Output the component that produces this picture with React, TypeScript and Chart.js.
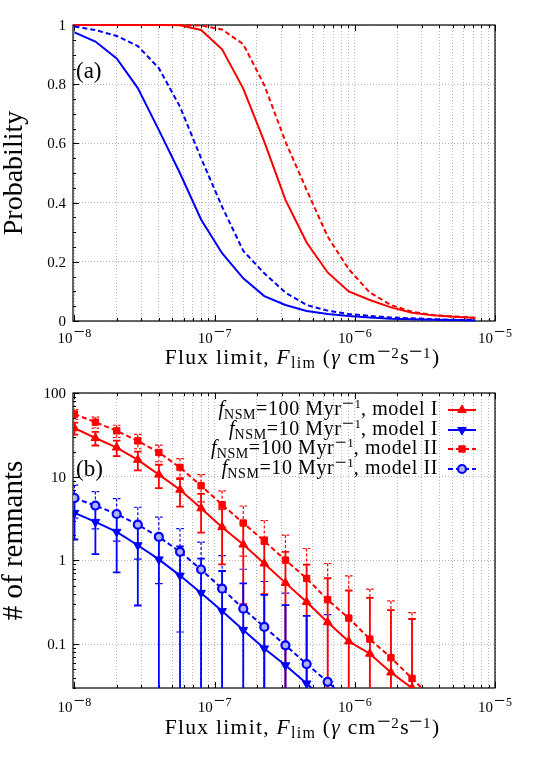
import React, { useEffect, useRef } from 'react';
import { Chart, registerables } from 'chart.js';

Chart.register(...registerables);

const FONT = '"Liberation Serif", "Times New Roman", Times, serif';
const RED = '#ff0000';
const BLUE = '#0000ff';
const GRID = '#b4b4b4';

// Flux limit grid (gamma cm^-2 s^-1)
const fluxLimits = [
  1.0e-8, 1.41e-8, 2.0e-8, 2.83e-8, 4.0e-8, 5.66e-8, 8.0e-8, 1.13e-7, 1.6e-7, 2.26e-7,
  3.2e-7, 4.53e-7, 6.4e-7, 9.05e-7, 1.28e-6, 1.81e-6, 2.56e-6, 3.62e-6, 5.12e-6, 7.24e-6,
];

// Panel (a): detection probability
const probRedModelI = [1, 1, 1, 1, 1, 0.999, 0.983, 0.918, 0.785, 0.606, 0.409, 0.265, 0.164, 0.1, 0.071, 0.046, 0.028, 0.019, 0.014, 0.01];
const probRedModelII = [1, 1, 1, 1, 1, 1, 0.998, 0.985, 0.935, 0.797, 0.606, 0.443, 0.285, 0.175, 0.096, 0.054, 0.031, 0.02, 0.015, 0.011];
const probBlueModelI = [0.975, 0.944, 0.887, 0.787, 0.645, 0.499, 0.343, 0.229, 0.144, 0.084, 0.054, 0.034, 0.024, 0.017, 0.012, 0.008, 0.006, 0.004, 0.003, 0.002];
const probBlueModelII = [0.995, 0.983, 0.963, 0.929, 0.854, 0.724, 0.55, 0.386, 0.237, 0.161, 0.096, 0.054, 0.035, 0.024, 0.017, 0.012, 0.009, 0.006, 0.004, 0.003];

// Panel (b): number of remnants with error bars (half widths)
const remRedModelI = [38, 29, 22.3, 15.9, 10.6, 7.0, 4.2, 2.5, 1.55, 0.92, 0.54, 0.32, 0.183, 0.108, 0.077, 0.046, 0.03];
const errRedModelI = [6.2, 5.4, 4.7, 4.0, 3.3, 2.6, 2.05, 1.6, 1.25, 0.96, 0.73, 0.57, 0.43, 0.33, 0.28, 0.21, 0.17];
const remBlueModelI = [3.7, 2.89, 2.2, 1.52, 1.03, 0.66, 0.41, 0.249, 0.148, 0.089, 0.056, 0.034, 0.02];
const errBlueModelI = [1.92, 1.7, 1.48, 1.23, 1.01, 0.81, 0.64, 0.5, 0.385, 0.3, 0.237, 0.184];
const remRedModelII = [56, 44.8, 35.3, 26.8, 19.5, 12.9, 7.8, 4.64, 2.8, 1.7, 1.01, 0.61, 0.34, 0.205, 0.115, 0.069, 0.039, 0.022];
const errRedModelII = [7.5, 6.7, 5.9, 5.2, 4.4, 3.6, 2.8, 2.15, 1.67, 1.3, 1.0, 0.78, 0.58, 0.45, 0.34, 0.26, 0.2];
const remBlueModelII = [5.57, 4.52, 3.59, 2.68, 1.91, 1.27, 0.78, 0.46, 0.266, 0.161, 0.097, 0.058, 0.0356, 0.021];
const errBlueModelII = [2.36, 2.13, 1.89, 1.64, 1.38, 1.13, 0.88, 0.68, 0.52, 0.4, 0.31, 0.24, 0.19];

// Ticks and labels
const xDecades = [1e-8, 1e-7, 1e-6, 1e-5];
const xDecadeExponents = ['8', '7', '6', '5'];
const probTicks = [0, 0.2, 0.4, 0.6, 0.8, 1];
const probTickLabels = ['0', '0.2', '0.4', '0.6', '0.8', '1'];
const remTicks = [0.1, 1, 10, 100];
const remTickLabels = ['0.1', '1', '10', '100'];
const legendRates = ['100', '10', '100', '10'];
const legendModels = ['I', 'I', 'II', 'II'];
const legendColors = [RED, BLUE, RED, BLUE];
const legendMarkers = ['tri', 'tridown', 'square', 'circle'];
const legendDashed = [false, false, true, true];

const X_MIN = 0.976e-8;
const X_MAX = 1e-5;
const REM_MIN = 0.03;
const REM_MAX = 100;

const xMinorTicks: number[] = [];
for (const d of [1e-8, 1e-7, 1e-6]) for (let m = 2; m <= 9; m++) xMinorTicks.push(d * m);
const probMinorTicks: number[] = [];
for (let i = 1; i < 20; i++) if (i % 4 !== 0) probMinorTicks.push(i * 0.05);
const remMinorTicks: number[] = [];
for (const d of [0.01, 0.1, 1, 10]) for (let m = 2; m <= 9; m++) { const v = d * m; if (v >= REM_MIN - 1e-9 && v < REM_MAX) remMinorTicks.push(v); }

type Seg = { t: string; size: number; italic?: boolean; dy?: number; dx?: number; ls?: number };
const segFont = (s: Seg) => `${s.italic ? 'italic ' : ''}${s.size}px ${FONT}`;

function segWidth(ctx: CanvasRenderingContext2D, s: Seg) {
  ctx.font = segFont(s);
  if (!s.ls) return ctx.measureText(s.t).width;
  let w = 0;
  for (const ch of s.t) w += ctx.measureText(ch).width + s.ls;
  return w;
}
function richWidth(ctx: CanvasRenderingContext2D, segs: Seg[]) {
  let w = 0;
  for (const s of segs) w += segWidth(ctx, s) + (s.dx || 0);
  return w;
}
function drawRich(ctx: CanvasRenderingContext2D, segs: Seg[], x: number, y: number, align: 'left' | 'center' | 'right') {
  const w = richWidth(ctx, segs);
  let cx = align === 'left' ? x : align === 'right' ? x - w : x - w / 2;
  ctx.textAlign = 'left';
  ctx.textBaseline = 'alphabetic';
  ctx.fillStyle = '#000';
  for (const s of segs) {
    ctx.font = segFont(s);
    cx += s.dx || 0;
    if (!s.ls) {
      ctx.fillText(s.t, cx, y + (s.dy || 0));
      cx += ctx.measureText(s.t).width;
    } else {
      for (const ch of s.t) {
        ctx.fillText(ch, cx, y + (s.dy || 0));
        cx += ctx.measureText(ch).width + s.ls;
      }
    }
  }
}
const powerLabel = (exp: string): Seg[] => [
  { t: '10', size: 15 },
  { t: '−', size: 20, dy: -5, dx: 1 },
  { t: exp, size: 12, dy: -6.5, dx: 0.5 },
];
const TL = 1.3;
const fluxTitle: Seg[] = [
  { t: 'Flux limit, ', size: 21.5, ls: TL },
  { t: 'F', size: 21.5, italic: true, ls: TL },
  { t: 'lim', size: 16, dy: 4, ls: TL },
  { t: ' (', size: 21.5, ls: TL },
  { t: 'γ', size: 21.5, italic: true, ls: TL },
  { t: ' cm', size: 21.5, ls: TL },
  { t: '−', size: 24, dy: -5, dx: 0.5 },
  { t: '2', size: 15, dy: -6.5, dx: 0.5 },
  { t: 's', size: 21.5, dx: 1.5 },
  { t: '−', size: 24, dy: -5, dx: 0.5 },
  { t: '1', size: 15, dy: -6.5, dx: 0.5 },
  { t: ')', size: 21.5, dx: 1.5 },
];

function drawMarker(ctx: CanvasRenderingContext2D, kind: string, x: number, y: number, color: string) {
  ctx.save();
  ctx.fillStyle = color;
  ctx.strokeStyle = color;
  ctx.lineWidth = 1;
  ctx.setLineDash([]);
  ctx.beginPath();
  if (kind === 'tri' || kind === 'tridown') {
    const r = 5;
    const s = kind === 'tri' ? 1 : -1;
    ctx.moveTo(x, y - s * r);
    ctx.lineTo(x + r * 0.866, y + s * r * 0.5);
    ctx.lineTo(x - r * 0.866, y + s * r * 0.5);
    ctx.closePath();
    ctx.fill();
    ctx.stroke();
  } else if (kind === 'square') {
    ctx.rect(x - 3.2, y - 3.2, 6.4, 6.4);
    ctx.fill();
    ctx.stroke();
  } else {
    ctx.arc(x, y, 4, 0, Math.PI * 2);
    ctx.fillStyle = '#b0b0ff';
    ctx.fill();
    ctx.lineWidth = 2.2;
    ctx.stroke();
  }
  ctx.restore();
}

function drawFrameTicks(chart: any, kind: 'top' | 'bottom') {
  const ctx: CanvasRenderingContext2D = chart.ctx;
  const a = chart.chartArea;
  const xs = chart.scales.x;
  const ys = chart.scales.y;
  ctx.save();
  ctx.strokeStyle = '#000';
  ctx.lineWidth = 1.2;
  ctx.setLineDash([]);
  ctx.strokeRect(a.left, a.top, a.right - a.left, a.bottom - a.top);
  ctx.lineWidth = 1;
  const vt = (v: number, len: number) => {
    const p = Math.round(xs.getPixelForValue(v)) + 0.5;
    ctx.beginPath();
    ctx.moveTo(p, a.bottom); ctx.lineTo(p, a.bottom - len);
    ctx.moveTo(p, a.top); ctx.lineTo(p, a.top + len);
    ctx.stroke();
  };
  xDecades.forEach((v) => vt(v, 6));
  xMinorTicks.forEach((v) => vt(v, 3));
  const ht = (v: number, len: number) => {
    const p = Math.round(ys.getPixelForValue(v)) + 0.5;
    ctx.beginPath();
    ctx.moveTo(a.left, p); ctx.lineTo(a.left + len, p);
    ctx.stroke();
  };
  if (kind === 'top') {
    probTicks.forEach((v) => ht(v, 6));
    probMinorTicks.forEach((v) => ht(v, 3));
  } else {
    remTicks.forEach((v) => ht(v, 6));
    remMinorTicks.forEach((v) => ht(v, 3));
  }
  ctx.restore();
}

function drawErrorBars(chart: any, xsVals: number[], vals: number[], errs: number[], color: string, dashed: boolean) {
  const ctx: CanvasRenderingContext2D = chart.ctx;
  const a = chart.chartArea;
  const xs = chart.scales.x;
  const ys = chart.scales.y;
  ctx.save();
  ctx.beginPath();
  ctx.rect(a.left, a.top, a.right - a.left, a.bottom - a.top);
  ctx.clip();
  ctx.strokeStyle = color;
  ctx.lineWidth = dashed ? 1.2 : 1.8;
  ctx.setLineDash(dashed ? [3, 2] : []);
  const cap = 3.8;
  for (let i = 0; i < errs.length; i++) {
    const px = xs.getPixelForValue(xsVals[i]);
    const hi = vals[i] + errs[i];
    const lo = vals[i] - errs[i];
    const yHi = ys.getPixelForValue(hi);
    const yLo = lo > 0 ? ys.getPixelForValue(lo) : a.bottom + 20;
    ctx.beginPath();
    ctx.moveTo(px, yHi); ctx.lineTo(px, yLo);
    ctx.moveTo(px - cap, yHi); ctx.lineTo(px + cap, yHi);
    if (lo > 0) { ctx.moveTo(px - cap, yLo); ctx.lineTo(px + cap, yLo); }
    ctx.stroke();
  }
  ctx.restore();
}

function drawYTitle(ctx: CanvasRenderingContext2D, text: string, size: number, baseX: number, cy: number) {
  ctx.save();
  ctx.translate(baseX, cy);
  ctx.rotate(-Math.PI / 2);
  ctx.font = `${size}px ${FONT}`;
  ctx.textAlign = 'center';
  ctx.textBaseline = 'alphabetic';
  ctx.fillStyle = '#000';
  ctx.fillText(text, 0, 0);
  ctx.restore();
}

function makeDecor(kind: 'top' | 'bottom') {
  return {
    id: 'decor-' + kind,
    beforeDatasetsDraw(chart: any) {
      drawFrameTicks(chart, kind);
      if (kind === 'bottom') {
        drawErrorBars(chart, fluxLimits, remRedModelII, errRedModelII, RED, true);
        drawErrorBars(chart, fluxLimits, remBlueModelII, errBlueModelII, BLUE, true);
        drawErrorBars(chart, fluxLimits, remRedModelI, errRedModelI, RED, false);
        drawErrorBars(chart, fluxLimits, remBlueModelI, errBlueModelI, BLUE, false);
      }
    },
    afterDraw(chart: any) {
      const ctx: CanvasRenderingContext2D = chart.ctx;
      const a = chart.chartArea;
      const xs = chart.scales.x;
      const ys = chart.scales.y;
      ctx.save();
      // x tick labels
      const tickBase = kind === 'top' ? a.bottom + 22 : a.bottom + 24;
      xDecades.forEach((v, i) => {
        drawRich(ctx, powerLabel(xDecadeExponents[i]), xs.getPixelForValue(v), tickBase, 'center');
      });
      // y tick labels
      ctx.font = `15px ${FONT}`;
      ctx.textAlign = 'right';
      ctx.textBaseline = 'alphabetic';
      ctx.fillStyle = '#000';
      const yt = kind === 'top' ? probTicks : remTicks;
      const yl = kind === 'top' ? probTickLabels : remTickLabels;
      yt.forEach((v, i) => ctx.fillText(yl[i], 66, ys.getPixelForValue(v) + 5));
      // x title
      drawRich(ctx, fluxTitle, 302, kind === 'top' ? a.bottom + 43 : a.bottom + 46, 'center');
      // y title
      const cy = (a.top + a.bottom) / 2;
      if (kind === 'top') drawYTitle(ctx, 'Probability', 28, 22, cy);
      else drawYTitle(ctx, '# of remnants', 29, 22, cy);
      // panel label
      ctx.font = `23px ${FONT}`;
      ctx.textAlign = 'left';
      ctx.fillStyle = '#000';
      ctx.fillText(kind === 'top' ? '(a)' : '(b)', 76, kind === 'top' ? 78 : 106);
      // legend
      if (kind === 'bottom') {
        const rowY = [40, 60, 79, 99];
        const L = 0.6;
        for (let i = 0; i < 4; i++) {
          const y = rowY[i];
          const segs: Seg[] = [
            { t: 'f', size: 20, italic: true },
            { t: 'NSM', size: 14, dy: 4, ls: L },
            { t: '=' + legendRates[i] + ' Myr', size: 20, ls: L },
            { t: '−', size: 21, dy: -5, dx: 0.5 },
            { t: '1', size: 13, dy: -7, dx: 0.5 },
            { t: ', model ' + legendModels[i], size: 20, ls: L },
          ];
          drawRich(ctx, segs, 438, y + 5, 'right');
          ctx.save();
          ctx.strokeStyle = legendColors[i];
          ctx.lineWidth = 2;
          ctx.setLineDash(legendDashed[i] ? [5, 3] : []);
          ctx.beginPath();
          ctx.moveTo(448, y); ctx.lineTo(476, y);
          ctx.stroke();
          ctx.restore();
          drawMarker(ctx, legendMarkers[i], 462, y, legendColors[i]);
        }
      }
      ctx.restore();
    },
  };
}

const pts = (ys: number[]) => ys.map((y, i) => ({ x: fluxLimits[i], y }));

const xScaleOpts = {
  type: 'logarithmic' as const,
  min: X_MIN,
  max: X_MAX,
  ticks: { display: false },
  grid: { color: GRID, lineWidth: 1, drawTicks: false },
  border: { display: false, dash: [1, 2] },
  afterBuildTicks: (s: any) => {
    s.ticks = [...xDecades, ...xMinorTicks].sort((p, q) => p - q).map((v) => ({ value: v }));
  },
};

function topConfig(): any {
  const line = (data: number[], color: string, dashed: boolean) => ({
    data: pts(data),
    borderColor: color,
    backgroundColor: color,
    borderWidth: 2,
    borderDash: dashed ? [5, 3] : [],
    pointRadius: 0,
    tension: 0,
    fill: false,
    clip: { left: 0, right: 0, top: 1.5, bottom: 1.5 },
  });
  return {
    type: 'line',
    data: {
      datasets: [
        line(probBlueModelII, BLUE, true),
        line(probBlueModelI, BLUE, false),
        line(probRedModelII, RED, true),
        line(probRedModelI, RED, false),
      ],
    },
    options: {
      responsive: false,
      animation: false,
      events: [],
      layout: { padding: { left: 73, right: 43, top: 25, bottom: 49 } },
      plugins: { legend: { display: false }, tooltip: { enabled: false } },
      scales: {
        x: xScaleOpts,
        y: {
          type: 'linear',
          min: 0,
          max: 1,
          ticks: { display: false },
          grid: { color: GRID, lineWidth: 1, drawTicks: false },
          border: { display: false, dash: [1, 2] },
          afterBuildTicks: (s: any) => { s.ticks = probTicks.map((v) => ({ value: v })); },
        },
      },
    },
    plugins: [makeDecor('top')],
  };
}

function bottomConfig(): any {
  const series = (data: number[], color: string, dashed: boolean, style: string, extra: any) => ({
    data: pts(data),
    borderColor: color,
    backgroundColor: color,
    borderWidth: 2,
    borderDash: dashed ? [5, 3] : [],
    pointStyle: style,
    pointBackgroundColor: color,
    pointBorderColor: color,
    pointBorderWidth: 1,
    tension: 0,
    fill: false,
    clip: 0,
    ...extra,
  });
  return {
    type: 'line',
    data: {
      datasets: [
        series(remBlueModelII, BLUE, true, 'circle', { pointRadius: 4, pointBorderWidth: 2.2, pointBackgroundColor: '#b0b0ff' }),
        series(remRedModelII, RED, true, 'rect', { pointRadius: 4.5 }),
        series(remBlueModelI, BLUE, false, 'triangle', { pointRadius: 5, pointRotation: 180 }),
        series(remRedModelI, RED, false, 'triangle', { pointRadius: 5 }),
      ],
    },
    options: {
      responsive: false,
      animation: false,
      events: [],
      layout: { padding: { left: 73, right: 43, top: 23, bottom: 69 } },
      plugins: { legend: { display: false }, tooltip: { enabled: false } },
      scales: {
        x: xScaleOpts,
        y: {
          type: 'logarithmic',
          min: REM_MIN,
          max: REM_MAX,
          ticks: { display: false },
          grid: { color: GRID, lineWidth: 1, drawTicks: false },
          border: { display: false, dash: [1, 2] },
          afterBuildTicks: (s: any) => { s.ticks = remTicks.map((v) => ({ value: v })); },
        },
      },
    },
    plugins: [makeDecor('bottom')],
  };
}

export default function App() {
  const topRef = useRef<HTMLCanvasElement>(null);
  const botRef = useRef<HTMLCanvasElement>(null);
  useEffect(() => {
    const c1 = new Chart(topRef.current as HTMLCanvasElement, topConfig());
    const c2 = new Chart(botRef.current as HTMLCanvasElement, bottomConfig());
    return () => {
      c1.destroy();
      c2.destroy();
    };
  }, []);
  return (
    <div style={{ position: 'absolute', left: 0, top: 0, width: 538, height: 757, background: '#fff' }}>
      <canvas ref={topRef} width={538} height={370} style={{ position: 'absolute', left: 0, top: 0, width: 538, height: 370 }} />
      <canvas ref={botRef} width={538} height={387} style={{ position: 'absolute', left: 0, top: 370, width: 538, height: 387 }} />
    </div>
  );
}
